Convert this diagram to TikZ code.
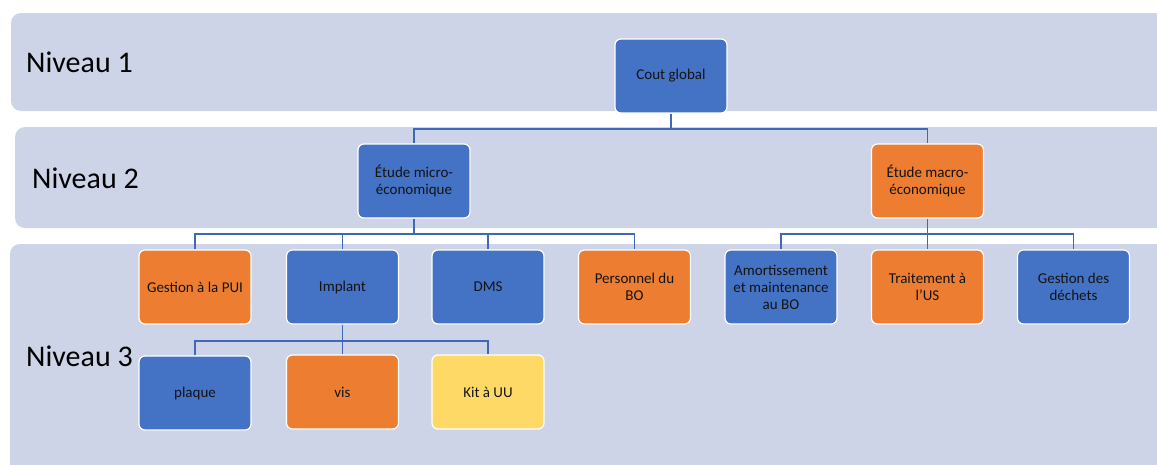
\documentclass[tikz,border=0pt]{standalone}
\usepackage{fontspec}
\setmainfont{Carlito}
\definecolor{band}{HTML}{CDD4E8}
\definecolor{bblue}{HTML}{4472C4}
\definecolor{lblue}{HTML}{3F68B8}
\definecolor{borange}{HTML}{ED7D31}
\definecolor{byellow}{HTML}{FFD966}
\definecolor{btext}{HTML}{141414}
\tikzset{
  bandbox/.style={fill=band, draw=none, rounded corners=10pt},
  box/.style={rounded corners=6pt, draw=white, line width=1.2pt,
    minimum width=112pt, minimum height=74pt, align=center,
    text=btext, font=\fontsize{15}{17}\selectfont, inner sep=2pt},
  bluebox/.style={box, fill=bblue},
  orangebox/.style={box, fill=borange},
  yellowbox/.style={box, fill=byellow},
  conn/.style={draw=lblue, line width=1.8pt},
  lvl/.style={anchor=west, font=\fontsize{30}{33}\selectfont, text=black, inner sep=0pt}
}
\begin{document}
\begin{tikzpicture}[x=1pt, y=-1pt]
\useasboundingbox (0,0) rectangle (1157,464);
\clip (0,0) rectangle (1157,464);
\fill[white] (0,0) rectangle (1157,464);
% bands
\path[bandbox] (11,13) rectangle (1185,111);
\path[bandbox] (15,127) rectangle (1185,228);
\path[bandbox] (10,244) rectangle (1170,490);
% level labels
\node[lvl] (n1) at (26,62) {Niveau 1};
\node[lvl] (n2) at (32,178) {Niveau 2};
\node[lvl] (n3) at (26,356) {Niveau 3};
% boxes
\node[bluebox]   (cg)      at (671,76)    {Cout global};
\node[bluebox]   (micro)   at (414,181)   {Étude micro-\\économique};
\node[orangebox] (macro)   at (927.5,181) {Étude macro-\\économique};
\node[orangebox] (pui)     at (195,287)   {Gestion à la PUI};
\node[bluebox]   (implant) at (342.5,287) {Implant};
\node[bluebox]   (dms)     at (488,287)   {DMS};
\node[orangebox] (pers)    at (634.5,287) {Personnel du\\BO};
\node[bluebox]   (amort)   at (781,287)   {Amortissement\\et maintenance\\au BO};
\node[orangebox] (trait)   at (927.5,287) {Traitement à\\l’US};
\node[bluebox]   (dechets) at (1073.5,287){Gestion des\\déchets};
\node[bluebox]   (plaque)  at (195,393)   {plaque};
\node[orangebox] (vis)     at (342.5,392) {vis};
\node[yellowbox] (kit)     at (488,392)   {Kit à UU};
% connectors
\coordinate (b1) at (671,129);
\coordinate (b2) at (414,234);
\coordinate (b3) at (927.5,234);
\coordinate (b4) at (342.5,341);
\draw[conn] (cg.south) -- (b1);
\draw[conn] (micro.north) |- (b1) -| (macro.north);
\draw[conn] (micro.south) -- (b2);
\draw[conn] (pui.north) |- (b2) -| (pers.north);
\draw[conn] (implant.north) -- (implant.north |- b2);
\draw[conn] (dms.north) -- (dms.north |- b2);
\draw[conn] (macro.south) -- (trait.north);
\draw[conn] (amort.north) |- (b3) -| (dechets.north);
\draw[conn] (implant.south) -- (vis.north);
\draw[conn] (plaque.north) |- (b4) -| (kit.north);
\end{tikzpicture}
\end{document}
